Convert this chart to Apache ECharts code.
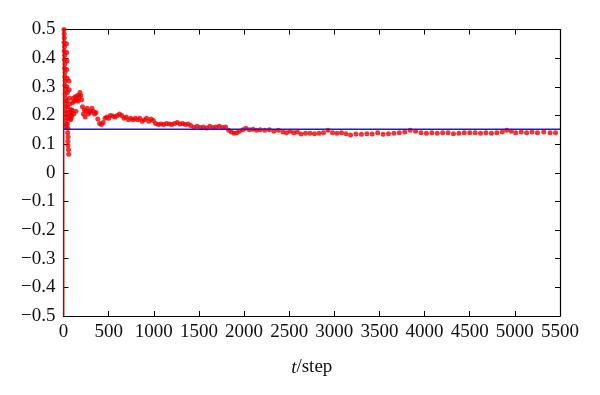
<!DOCTYPE html>
<html>
<head>
<meta charset="utf-8">
<script src="https://cdn.jsdelivr.net/npm/echarts@6/dist/echarts.min.js"></script>
<style>html,body{margin:0;padding:0;background:#fff}#c{width:600px;height:395px}</style>
</head>
<body>
<div id="c"></div>
<script>
// Sampled times (steps) and estimated values
const times = [
  5,7,9,6,11,8,13,10,15,12,17,14,19,16,21,18,23,20,25,22,27,24,29,26,
  33,36,39,35,41,37,43,40,45,42,47,44,49,46,51,48,50,
  55,58,61,63,66,69,71,74,77,80,84,88,92,96,
  100,108,115,122,130,138,146,155,163,172,182,192,200,210,220,230,240,250,262,275,288,300,315,330,345,360,380,400,420,440,
  460,480,500,520,545,570,595,620,645,670,695,720,745,770,795,820,845,870,895,920,945,970,995,
  1020,1050,1080,1110,1140,1170,1200,1230,1260,1290,1320,1350,1380,1410,
  1445,1480,1515,1550,1585,1620,1655,1690,1725,1760,1795,
  1830,1860,1890,1920,1950,1985,2020,2060,2100,2140,2180,2230,2280,2330,2380,2430,2470,2510,2550,2590,2630,2680,2730,2780,2830,2880,2930,2980,3030,3080,3130,3180,3240,3300,3360,3420,3480,3540,3600,3660,3720,3780,3840,3900,3960,4020,4080,4140,4200,4260,4320,4380,4440,4500,4560,4620,4680,4740,4800,4860,4910,4960,5010,5070,5130,5190,5250,5320,5390,5450
];
const values = [
  0.50,0.485,0.47,0.455,0.44,0.425,0.41,0.395,0.38,0.365,0.35,0.335,0.32,0.305,0.29,0.275,0.26,0.245,0.23,0.215,0.20,0.185,0.17,0.16,
  0.45,0.42,0.39,0.36,0.33,0.30,0.28,0.25,0.23,0.21,0.19,0.17,0.155,0.14,0.125,0.11,0.095,
  0.08,0.065,0.32,0.29,0.26,0.24,0.22,0.20,0.185,0.21,0.19,0.20,0.22,0.215,
  0.245,0.26,0.205,0.25,0.265,0.215,0.255,0.27,0.25,0.265,0.28,0.27,0.255,0.23,0.205,0.22,0.195,0.215,0.225,0.205,0.215,0.21,0.225,0.215,0.205,0.21,0.188,0.172,0.168,0.175,
  0.19,0.195,0.19,0.20,0.198,0.195,0.20,0.205,0.20,0.19,0.195,0.185,0.19,0.185,0.19,0.185,0.19,0.18,0.185,0.19,0.18,0.188,0.182,
  0.172,0.168,0.17,0.168,0.172,0.17,0.168,0.172,0.175,0.17,0.172,0.168,0.17,0.165,
  0.158,0.162,0.158,0.16,0.156,0.162,0.158,0.16,0.162,0.158,0.16,
  0.148,0.142,0.138,0.14,0.145,0.15,0.155,0.15,0.152,0.148,0.15,0.148,0.15,0.145,0.148,0.142,0.14,0.145,0.14,0.142,0.135,0.138,0.138,0.136,0.138,0.14,0.148,0.14,0.138,0.14,0.136,0.132,0.135,0.134,0.136,0.135,0.14,0.134,0.136,0.138,0.14,0.142,0.148,0.145,0.14,0.138,0.14,0.138,0.14,0.14,0.136,0.138,0.14,0.14,0.14,0.138,0.14,0.138,0.14,0.142,0.148,0.145,0.14,0.142,0.14,0.142,0.14,0.142,0.14,0.14
];
const refLevel = 0.152;
const earlyLineT = [3, 3];
const earlyLineV = [-0.5, 0.5];
const xTicks = [0,500,1000,1500,2000,2500,3000,3500,4000,4500,5000,5500];
const yTicks = [-0.5,-0.4,-0.3,-0.2,-0.1,0,0.1,0.2,0.3,0.4,0.5];

const font = 'Liberation Serif';
const chart = echarts.init(document.getElementById('c'));
const pts = times.map((t, i) => [t, values[i]]);
const earlyLine = earlyLineT.map((t, i) => [t, earlyLineV[i]]);
const baseAxis = {
  axisLine: { show: true, onZero: false, lineStyle: { color: '#000', width: 1.2 } },
  axisTick: { show: true, inside: true, length: 5, lineStyle: { color: '#000', width: 1 } },
  splitLine: { show: false }
};
chart.setOption({
  animation: false,
  grid: { left: 63.5, right: 40, top: 29.5, bottom: 79, containLabel: false },
  xAxis: [
    Object.assign({}, baseAxis, {
      type: 'value', min: 0, max: 5500, interval: 500, position: 'bottom',
      axisLabel: { color: '#111', fontFamily: font, fontSize: 19, margin: 7,
        formatter: v => String(xTicks.find(t => Math.abs(t - v) < 1e-6) ?? v) },
      name: '{i|t}/step', nameLocation: 'middle', nameGap: 42,
      nameTextStyle: { color: '#111', fontFamily: font, fontSize: 19,
        rich: { i: { fontStyle: 'italic', fontFamily: font, fontSize: 19, color: '#111' } } }
    }),
    Object.assign({}, baseAxis, {
      type: 'value', min: 0, max: 5500, interval: 500, position: 'top',
      axisLabel: { show: false }
    })
  ],
  yAxis: [
    Object.assign({}, baseAxis, {
      type: 'value', min: -0.5, max: 0.5, interval: 0.1, position: 'left',
      axisLabel: { color: '#111', fontFamily: font, fontSize: 19, margin: 8,
        formatter: v => { const r = yTicks.reduce((a, b) => Math.abs(b - v) < Math.abs(a - v) ? b : a); return (r === 0 ? '0' : String(r)).replace('-', '\u2212'); } }
    }),
    Object.assign({}, baseAxis, {
      type: 'value', min: -0.5, max: 0.5, interval: 0.1, position: 'right',
      axisLabel: { show: false }
    })
  ],
  series: [
    { type: 'line', data: earlyLine, symbol: 'none', lineStyle: { color: '#e00000', width: 1.2 }, z: 3 },
    { type: 'scatter', data: pts, symbol: 'circle', symbolSize: 5, itemStyle: { color: '#ee0000' }, z: 4 },
    { type: 'line', data: [[0, refLevel], [5500, refLevel]], symbol: 'none', lineStyle: { color: '#1a1aee', width: 1.5 }, z: 5 }
  ]
});
</script>
</body>
</html>
